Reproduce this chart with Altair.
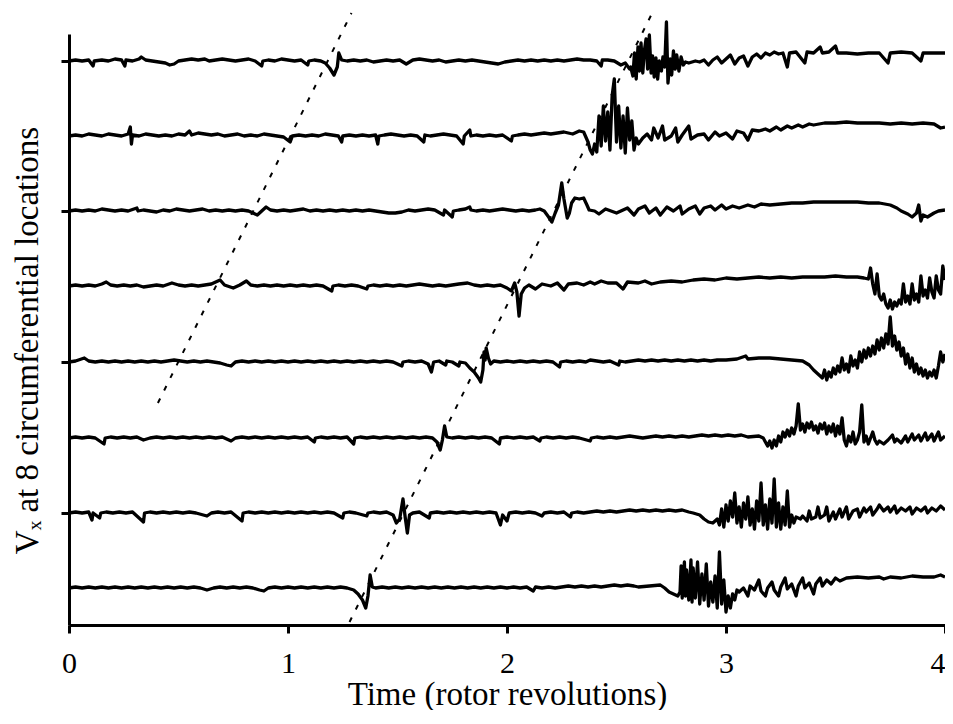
import altair as alt
import pandas as pd

X_TICKS = [0, 1, 2, 3, 4]
# vertical offset (baseline) of each of the 8 traces, top to bottom
OFFSETS = [527, 452, 377, 302, 226, 150, 75, 0]
TICK_OFFSETS = [527, 377, 226, 75]

# (time in revolutions, Vx deviation from the trace baseline)
TRACE_1 = [(0.00,0),(0.03,1),(0.06,0),(0.09,1),(0.11,-5),(0.115,0),(0.15,1),(0.18,0),(0.21,2),(0.24,1),(0.255,-5),(0.26,1),(0.29,0),(0.32,2),(0.33,4),(0.35,1),(0.38,0),(0.41,-1),(0.44,-2),(0.46,-4),(0.48,-3),(0.50,0),(0.53,1),(0.56,2),(0.59,1),(0.62,2),(0.64,0),(0.67,1),(0.70,2),(0.73,1),(0.76,0),(0.79,1),(0.82,2),(0.85,0),(0.88,-5),(0.885,0),(0.91,1),(0.94,0),(0.97,2),(1.00,1),(1.03,0),(1.06,1),(1.09,-4),(1.095,0),(1.12,1),(1.15,0),(1.17,-2),(1.19,-7),(1.21,-14),(1.225,-6),(1.232,8),(1.245,1),(1.27,0),(1.30,1),(1.33,0),(1.36,1),(1.39,-1),(1.42,0),(1.45,1),(1.48,0),(1.51,1),(1.54,-3),(1.57,1),(1.60,2),(1.63,1),(1.66,0),(1.69,1),(1.72,-1),(1.75,0),(1.78,1),(1.81,0),(1.84,1),(1.87,0),(1.90,-1),(1.93,-2),(1.96,-3),(1.99,-1),(2.02,0),(2.05,1),(2.08,0),(2.11,1),(2.14,0),(2.17,1),(2.20,0),(2.23,1),(2.26,0),(2.29,1),(2.32,2),(2.35,1),(2.38,1),(2.41,0),(2.43,-5),(2.435,1),(2.46,1),(2.49,0),(2.52,-4),(2.54,-2),(2.56,-8),
    (2.565,-6),(2.575,-15),(2.582,8),(2.59,-18),(2.598,14),(2.605,-10),(2.612,18),(2.62,-12),(2.627,10),(2.635,22),(2.642,-8),(2.65,26),(2.658,-12),(2.665,5),(2.672,-16),(2.68,3),(2.688,-18),(2.695,0),(2.705,-10),(2.712,4),(2.72,-6),(2.728,39),(2.735,-22),(2.745,2),(2.752,-14),(2.76,10),(2.768,-8),(2.775,6),(2.785,-10),(2.795,4),(2.805,-4),(2.815,-1),
    (2.83,-2),(2.86,0),(2.88,-1),(2.9,1),(2.92,-4),(2.94,1),(2.96,4),(2.98,-2),(3.0,2),(3.02,6),(3.04,-3),(3.06,3),(3.08,5),(3.1,-5),(3.12,4),(3.14,7),(3.16,3),(3.18,8),(3.2,6),(3.22,9),(3.24,7),(3.26,8),(3.28,-6),(3.29,8),(3.32,9),(3.36,-2),(3.37,9),(3.40,8),(3.43,14),(3.44,8),(3.47,9),(3.50,15),(3.51,8),(3.55,8),(3.6,7),(3.65,8),(3.7,8),(3.74,-2),(3.75,8),(3.8,9),(3.85,8),(3.89,0),(3.90,8),(3.95,8),(4.0,8)]

TRACE_2 = [(0.00,0),(0.03,1),(0.06,0),(0.09,2),(0.12,1),(0.15,0),(0.18,2),(0.21,1),(0.24,0),(0.27,2),(0.28,9),(0.285,-8),(0.29,1),(0.32,0),(0.35,2),(0.38,1),(0.41,0),(0.44,1),(0.47,0),(0.50,2),(0.53,1),(0.55,5),(0.56,1),(0.59,3),(0.62,2),(0.65,1),(0.68,2),(0.71,0),(0.74,1),(0.77,2),(0.80,0),(0.83,1),(0.86,0),(0.89,2),(0.92,1),(0.95,0),(0.98,-1),(1.01,-6),(1.02,0),(1.05,1),(1.08,0),(1.11,1),(1.14,0),(1.17,2),(1.20,1),(1.23,0),(1.245,-6),(1.25,0),(1.28,1),(1.31,0),(1.34,1),(1.37,0),(1.40,1),(1.41,-8),(1.415,0),(1.44,1),(1.47,2),(1.50,1),(1.53,0),(1.56,1),(1.59,0),(1.62,-6),(1.625,1),(1.65,0),(1.68,1),(1.71,2),(1.74,1),(1.77,0),(1.80,-8),(1.805,0),(1.83,6),(1.835,0),(1.86,1),(1.89,0),(1.92,1),(1.95,0),(1.98,1),(2.02,-5),(2.025,0),(2.05,1),(2.08,2),(2.11,1),(2.14,2),(2.17,3),(2.20,2),(2.23,3),(2.26,4),(2.28,3),
    (2.30,2),(2.33,5),(2.35,4),(2.37,-6),(2.38,-14),(2.39,-18),(2.40,-8),(2.41,-16),(2.42,20),(2.43,-10),(2.44,30),(2.45,-5),(2.46,24),(2.47,-14),(2.48,40),(2.49,57),(2.50,-6),(2.51,30),(2.52,-12),(2.53,20),(2.54,-17),(2.55,28),(2.56,-4),(2.57,15),(2.58,-14),(2.59,-2),(2.60,-8),(2.62,-2),
    (2.64,2),(2.66,-4),(2.67,8),(2.69,-2),(2.71,10),(2.72,-4),(2.75,0),(2.77,8),(2.78,-6),(2.80,1),(2.83,10),(2.84,-3),(2.87,1),(2.9,2),(2.92,-4),(2.95,4),(2.97,0),(3.0,3),(3.03,-3),(3.05,5),(3.08,3),(3.1,-4),(3.12,6),(3.15,5),(3.18,7),(3.2,5),(3.23,9),(3.25,6),(3.28,10),(3.3,8),(3.33,11),(3.35,9),(3.38,12),(3.4,11),(3.45,13),(3.5,13),(3.55,14),(3.6,13),(3.7,13),(3.75,12),(3.8,13),(3.85,12),(3.9,13),(3.95,12),(3.98,8),(4.0,9)]

TRACE_3 = [(0.00,0),(0.03,1),(0.06,0),(0.09,1),(0.12,0),(0.15,2),(0.18,1),(0.21,0),(0.24,1),(0.27,0),(0.31,3),(0.315,0),(0.34,1),(0.37,0),(0.40,-1),(0.43,1),(0.46,0),(0.49,2),(0.52,1),(0.55,0),(0.58,1),(0.61,2),(0.64,0),(0.67,1),(0.70,0),(0.73,1),(0.76,0),(0.79,1),(0.82,0),(0.86,-4),(0.88,0),(0.90,4),(0.92,1),(0.95,0),(0.98,1),(1.01,0),(1.04,1),(1.07,2),(1.10,0),(1.13,1),(1.16,0),(1.19,1),(1.22,0),(1.25,1),(1.28,0),(1.31,1),(1.34,0),(1.37,1),(1.40,0),(1.43,-1),(1.46,-2),(1.49,-2),(1.52,-1),(1.55,1),(1.58,0),(1.61,1),(1.64,2),(1.67,1),(1.71,-4),(1.715,1),(1.75,-6),(1.755,0),(1.78,1),(1.81,2),(1.83,4),(1.835,1),(1.86,0),(1.89,1),(1.92,0),(1.95,1),(1.98,2),(2.01,1),(2.04,0),(2.07,1),(2.10,0),(2.13,1),(2.15,2),(2.17,0),(2.19,-6),(2.205,-11),(2.22,-2),(2.235,6),(2.25,28),(2.26,12),(2.275,-7),(2.285,-2),(2.295,8),(2.31,13),(2.33,12),(2.35,13),(2.365,6),(2.375,1),
    (2.40,0),(2.42,-3),(2.45,2),(2.5,-2),(2.55,3),(2.58,-4),(2.6,2),(2.63,5),(2.65,-2),(2.68,3),(2.7,-4),(2.73,4),(2.76,0),(2.79,5),(2.8,-3),(2.83,2),(2.86,5),(2.88,-3),(2.9,3),(2.93,5),(2.95,1),(2.98,6),(3.0,2),(3.03,5),(3.06,3),(3.1,6),(3.13,4),(3.16,7),(3.2,6),(3.25,7),(3.3,8),(3.35,8),(3.4,9),(3.45,9),(3.5,9),(3.55,9),(3.6,9),(3.65,8),(3.7,8),(3.75,6),(3.78,3),(3.8,0),(3.83,-3),(3.85,-6),(3.87,-2),(3.88,6),(3.89,-10),(3.9,-4),(3.92,-6),(3.95,-2),(3.97,0),(4.0,1)]

TRACE_4 = [(0.00,0),(0.03,1),(0.06,0),(0.09,1),(0.12,0),(0.15,2),(0.17,4),(0.19,1),(0.22,0),(0.25,1),(0.28,0),(0.31,1),(0.34,-1),(0.37,0),(0.40,1),(0.43,0),(0.47,3),(0.50,1),(0.53,0),(0.56,1),(0.59,0),(0.62,1),(0.65,2),(0.69,6),(0.71,1),(0.75,-2),(0.78,1),(0.81,5),(0.83,1),(0.86,0),(0.89,1),(0.92,0),(0.95,1),(0.98,0),(1.01,1),(1.04,0),(1.07,1),(1.10,0),(1.13,1),(1.16,0),(1.20,-5),(1.205,0),(1.23,1),(1.26,0),(1.29,1),(1.32,0),(1.36,-3),(1.365,0),(1.39,1),(1.42,0),(1.45,1),(1.48,0),(1.51,1),(1.54,0),(1.57,1),(1.60,2),(1.63,1),(1.66,0),(1.69,1),(1.72,0),(1.75,1),(1.78,2),(1.82,3),(1.85,1),(1.88,0),(1.91,1),(1.94,0),(1.97,1),(2.00,-2),(2.02,-5),(2.035,3),(2.045,-6),(2.055,-30),(2.065,-8),(2.075,-4),(2.08,-2),
    (2.10,1),(2.13,-3),(2.16,2),(2.2,0),(2.23,3),(2.26,-4),(2.28,2),(2.32,3),(2.35,1),(2.38,4),(2.4,2),(2.43,5),(2.46,3),(2.5,3),(2.53,-3),(2.55,4),(2.6,3),(2.63,5),(2.66,2),(2.7,4),(2.75,5),(2.8,4),(2.85,6),(2.9,7),(2.95,6),(3.0,8),(3.05,7),(3.1,8),(3.15,9),(3.2,8),(3.25,9),(3.3,8),(3.35,9),(3.4,9),(3.45,9),(3.5,10),(3.55,9),(3.6,9),(3.63,8),(3.65,7),(3.66,18),(3.67,2),(3.68,-8),(3.69,12),(3.70,-10),(3.71,-14),(3.72,-8),(3.73,-18),(3.74,-22),(3.75,-14),(3.76,-23),(3.77,-16),(3.78,-20),(3.79,-14),(3.80,-18),(3.81,2),(3.82,-16),(3.83,-10),(3.84,-18),(3.85,2),(3.86,-14),(3.87,-8),(3.88,-16),(3.89,10),(3.90,-10),(3.91,-4),(3.92,-12),(3.93,8),(3.94,-6),(3.95,-12),(3.96,10),(3.97,-4),(3.98,-8),(3.99,20),(4.0,6)]

TRACE_5 = [(0.00,0),(0.03,1),(0.07,4),(0.09,1),(0.12,0),(0.15,1),(0.18,0),(0.21,1),(0.24,0),(0.27,1),(0.30,0),(0.33,1),(0.36,0),(0.39,1),(0.42,0),(0.45,1),(0.48,2),(0.51,1),(0.54,0),(0.57,1),(0.60,0),(0.63,1),(0.66,0),(0.69,-1),(0.72,-3),(0.74,-4),(0.76,0),(0.79,1),(0.82,0),(0.85,1),(0.88,0),(0.91,1),(0.94,0),(0.97,1),(1.00,0),(1.03,1),(1.06,0),(1.09,1),(1.12,0),(1.15,1),(1.18,0),(1.21,1),(1.24,0),(1.27,1),(1.30,0),(1.33,1),(1.36,0),(1.39,1),(1.42,0),(1.45,1),(1.48,0),(1.52,-4),(1.525,0),(1.55,1),(1.58,0),(1.61,1),(1.64,-2),(1.655,-10),(1.665,0),(1.69,1),(1.72,-3),(1.725,1),(1.75,0),(1.78,-4),(1.785,0),(1.81,-1),(1.83,-6),(1.85,-10),(1.87,-16),(1.88,-20),(1.89,-8),(1.895,10),(1.90,2),(1.905,14),(1.915,4),(1.925,-2),(1.94,1),(1.97,0),(2.00,1),(2.03,0),(2.06,1),(2.09,0),(2.12,1),(2.15,0),(2.18,1),(2.21,0),(2.24,-5),(2.245,0),(2.27,1),(2.30,0),(2.33,1),(2.36,0),(2.38,2),(2.41,1),(2.44,0),(2.47,1),(2.51,-3),(2.515,1),(2.54,0),(2.57,1),(2.60,2),(2.63,1),(2.66,2),(2.69,1),(2.72,2),(2.75,1),(2.78,2),(2.81,1),(2.84,2),(2.87,1),(2.90,2),(2.93,1),(2.96,2),
    (3.0,2),(3.05,3),(3.09,6),(3.1,3),(3.15,4),(3.2,4),(3.25,3),(3.3,2),(3.35,1),(3.38,-3),(3.40,-8),(3.42,-12),(3.44,-16),(3.45,-8),(3.46,-18),(3.47,-10),(3.48,-15),(3.49,-6),(3.50,-12),(3.51,-4),(3.52,-10),(3.53,4),(3.54,-8),(3.55,-2),(3.56,-10),(3.57,6),(3.58,-4),(3.59,2),(3.60,-6),(3.61,10),(3.62,0),(3.63,12),(3.64,4),(3.65,14),(3.66,6),(3.67,16),(3.68,8),(3.69,22),(3.70,12),(3.71,24),(3.72,14),(3.73,28),(3.74,18),(3.75,45),(3.76,16),(3.77,26),(3.78,12),(3.79,20),(3.80,6),(3.81,14),(3.82,-2),(3.83,8),(3.84,-6),(3.85,4),(3.86,-10),(3.87,-2),(3.88,-12),(3.89,-6),(3.90,-14),(3.91,-8),(3.92,-16),(3.93,-10),(3.94,-14),(3.95,-8),(3.96,-16),(3.97,-4),(3.98,10),(3.99,0),(4.0,8)]

TRACE_6 = [(0.00,0),(0.03,1),(0.06,0),(0.09,1),(0.12,0),(0.16,-6),(0.165,0),(0.19,1),(0.22,0),(0.25,1),(0.28,0),(0.31,1),(0.34,-2),(0.37,0),(0.40,1),(0.43,0),(0.46,1),(0.49,0),(0.52,1),(0.55,0),(0.58,1),(0.61,0),(0.64,1),(0.67,0),(0.70,1),(0.74,-3),(0.76,0),(0.79,1),(0.82,0),(0.85,1),(0.88,0),(0.91,1),(0.94,0),(0.97,1),(1.00,0),(1.03,1),(1.06,0),(1.09,1),(1.12,-4),(1.125,0),(1.15,1),(1.18,0),(1.21,1),(1.24,0),(1.27,1),(1.30,-6),(1.305,0),(1.33,1),(1.36,0),(1.39,1),(1.42,0),(1.45,1),(1.48,0),(1.51,1),(1.54,0),(1.57,1),(1.60,0),(1.63,1),(1.66,0),(1.68,-4),(1.695,-12),(1.705,-2),(1.715,12),(1.725,1),(1.75,0),(1.78,1),(1.81,0),(1.84,1),(1.87,0),(1.90,1),(1.93,0),(1.965,-6),(1.97,0),(2.00,1),(2.03,0),(2.06,1),(2.09,0),(2.12,1),(2.15,-3),(2.155,0),(2.18,1),(2.21,0),(2.24,1),(2.27,0),(2.30,1),(2.33,0),(2.38,-3),(2.385,0),(2.41,1),(2.44,0),(2.47,1),(2.50,0),(2.53,1),(2.56,2),(2.59,1),(2.62,0),(2.65,1),(2.68,2),(2.71,1),(2.74,2),(2.77,1),(2.80,2),(2.83,1),(2.86,2),(2.89,3),(2.92,2),(2.95,3),(2.98,2),(3.01,3),(3.04,2),(3.07,3),
    (3.1,1),(3.15,2),(3.17,0),(3.19,-8),(3.20,-3),(3.21,-10),(3.22,-2),(3.23,-8),(3.24,2),(3.25,-4),(3.26,6),(3.27,1),(3.28,8),(3.29,2),(3.30,10),(3.31,4),(3.32,12),(3.33,34),(3.34,8),(3.35,14),(3.36,6),(3.37,15),(3.38,10),(3.39,16),(3.40,8),(3.41,12),(3.42,5),(3.43,14),(3.44,9),(3.45,15),(3.46,4),(3.47,12),(3.48,6),(3.49,14),(3.50,2),(3.51,12),(3.52,4),(3.53,20),(3.54,-2),(3.55,-8),(3.56,2),(3.57,-4),(3.58,6),(3.59,-6),(3.60,-2),(3.61,6),(3.62,33),(3.63,-4),(3.64,2),(3.65,-6),(3.66,0),(3.67,6),(3.68,-2),(3.69,-6),(3.70,-3),(3.72,-6),(3.74,-2),(3.76,3),(3.77,-4),(3.78,-1),(3.80,-5),(3.82,2),(3.83,-4),(3.85,4),(3.86,-2),(3.88,3),(3.89,-3),(3.91,5),(3.92,-2),(3.94,4),(3.95,-3),(3.97,6),(3.98,-2),(4.0,2)]

TRACE_7 = [(0.00,0),(0.03,1),(0.06,0),(0.09,1),(0.105,-7),(0.11,0),(0.14,-5),(0.145,0),(0.17,1),(0.20,0),(0.23,1),(0.26,0),(0.29,1),(0.34,-9),(0.345,0),(0.37,1),(0.40,0),(0.43,1),(0.46,0),(0.49,1),(0.52,0),(0.55,1),(0.58,0),(0.63,-3),(0.65,0),(0.68,1),(0.71,0),(0.74,1),(0.79,-8),(0.795,0),(0.82,1),(0.85,0),(0.88,1),(0.91,0),(0.94,1),(0.97,0),(1.00,1),(1.03,0),(1.06,1),(1.09,0),(1.12,1),(1.15,0),(1.18,1),(1.21,0),(1.25,-5),(1.255,0),(1.28,1),(1.31,0),(1.36,-3),(1.365,0),(1.39,1),(1.42,0),(1.45,1),(1.48,-2),(1.495,-10),(1.51,-6),(1.525,14),(1.535,-4),(1.545,-20),(1.555,-2),(1.57,0),(1.60,1),(1.645,-5),(1.65,0),(1.68,1),(1.71,0),(1.74,1),(1.77,0),(1.80,1),(1.83,0),(1.86,1),(1.89,0),(1.92,1),(1.95,0),(1.97,-12),(1.98,-2),(2.00,-8),(2.01,0),(2.04,1),(2.07,0),(2.10,1),(2.13,0),(2.16,-3),(2.17,0),(2.20,1),(2.23,0),(2.26,1),(2.29,-4),(2.295,0),(2.32,1),(2.35,0),(2.38,1),(2.41,2),(2.44,1),(2.47,2),(2.50,1),(2.53,2),(2.56,3),(2.59,2),(2.62,3),(2.65,2),(2.68,3),(2.71,2),(2.74,3),(2.77,2),(2.80,3),(2.83,1),
    (2.85,0),(2.88,-2),(2.90,-6),(2.92,-9),(2.94,-10),(2.96,-6),(2.97,-12),(2.98,4),(2.99,-14),(3.00,8),(3.01,-8),(3.02,12),(3.03,-4),(3.04,20),(3.05,-10),(3.06,6),(3.07,-14),(3.08,10),(3.09,-6),(3.10,16),(3.11,-12),(3.12,4),(3.13,-16),(3.14,12),(3.15,-8),(3.16,30),(3.17,-12),(3.18,8),(3.19,-16),(3.20,14),(3.21,-10),(3.22,34),(3.23,-14),(3.24,10),(3.25,-16),(3.26,6),(3.27,-12),(3.28,22),(3.29,-14),(3.30,-2),(3.31,-10),(3.32,-4),(3.34,-6),(3.35,-3),(3.37,-8),(3.38,2),(3.39,-6),(3.41,-4),(3.42,6),(3.43,-5),(3.45,-2),(3.46,6),(3.47,-8),(3.49,1),(3.50,-6),(3.52,4),(3.53,-4),(3.55,6),(3.56,-6),(3.58,2),(3.60,4),(3.61,-4),(3.63,5),(3.64,1),(3.66,6),(3.67,-2),(3.69,4),(3.70,8),(3.72,2),(3.74,6),(3.75,1),(3.77,7),(3.78,0),(3.80,5),(3.82,2),(3.84,6),(3.85,-1),(3.87,5),(3.89,2),(3.91,6),(3.92,0),(3.94,5),(3.96,2),(3.98,7),(4.0,3)]

TRACE_8 = [(0.00,0),(0.03,1),(0.06,0),(0.09,1),(0.12,0),(0.15,1),(0.18,0),(0.21,1),(0.24,0),(0.27,1),(0.30,0),(0.33,1),(0.36,0),(0.39,1),(0.42,0),(0.45,1),(0.48,0),(0.51,1),(0.54,0),(0.57,1),(0.60,0),(0.63,-2),(0.66,0),(0.69,1),(0.72,0),(0.75,1),(0.78,0),(0.81,1),(0.84,0),(0.87,-2),(0.89,-3),(0.91,0),(0.94,1),(0.97,0),(1.00,1),(1.03,0),(1.06,1),(1.09,0),(1.12,1),(1.15,0),(1.18,1),(1.21,0),(1.24,1),(1.27,0),(1.30,-2),(1.32,-6),(1.34,-12),(1.355,-20),(1.365,-8),(1.375,13),(1.385,1),(1.40,0),(1.43,1),(1.46,0),(1.49,1),(1.52,0),(1.55,1),(1.58,0),(1.61,1),(1.64,0),(1.67,1),(1.70,0),(1.73,1),(1.76,0),(1.79,1),(1.82,0),(1.85,1),(1.88,0),(1.91,1),(1.94,0),(1.97,1),(2.00,0),(2.03,1),(2.06,0),(2.09,1),(2.12,-3),(2.13,1),(2.16,0),(2.19,1),(2.22,0),(2.25,1),(2.28,2),(2.31,1),(2.34,2),(2.37,1),(2.40,2),(2.43,1),(2.46,2),(2.49,3),(2.52,2),(2.55,3),(2.58,2),
    (2.6,1),(2.65,2),(2.7,3),(2.72,0),(2.74,-4),(2.76,-6),(2.78,-8),(2.79,-4),(2.795,22),(2.80,-10),(2.81,26),(2.815,-8),(2.82,18),(2.83,-12),(2.84,28),(2.845,-14),(2.85,20),(2.86,-10),(2.87,26),(2.88,-16),(2.89,14),(2.90,-12),(2.91,24),(2.92,-18),(2.93,6),(2.94,-14),(2.95,12),(2.96,-20),(2.97,36),(2.98,-16),(2.99,8),(3.00,-24),(3.01,-8),(3.02,-20),(3.03,-6),(3.04,-12),(3.05,-2),(3.06,-4),(3.08,0),(3.10,-8),(3.11,2),(3.13,-2),(3.15,8),(3.16,-3),(3.18,-8),(3.19,0),(3.21,6),(3.22,-2),(3.24,-8),(3.25,1),(3.27,10),(3.28,-1),(3.30,4),(3.32,-8),(3.33,2),(3.35,10),(3.36,0),(3.38,5),(3.40,-6),(3.41,4),(3.43,10),(3.44,2),(3.46,8),(3.48,4),(3.50,10),(3.52,7),(3.55,10),(3.6,11),(3.65,10),(3.7,11),(3.72,9),(3.75,11),(3.8,10),(3.85,12),(3.9,11),(3.95,11),(3.98,13),(4.0,11)]

TRACES = [TRACE_1, TRACE_2, TRACE_3, TRACE_4, TRACE_5, TRACE_6, TRACE_7, TRACE_8]

# two dotted propagation lines: (time, Vx-axis position)
DOTTED_A = [(0.406, 185), (1.290, 575)]
DOTTED_B = [(1.281, -34), (2.663, 575)]

rows = []
for i, (off, tr) in enumerate(zip(OFFSETS, TRACES)):
    seen = set()
    for t, d in sorted(tr):
        if t in seen:
            continue
        seen.add(t)
        rows.append({"t": t, "v": off + d, "trace": i})
df = pd.DataFrame(rows)

drows = []
for name, pts in (("A", DOTTED_A), ("B", DOTTED_B)):
    for t, v in pts:
        drows.append({"t": t, "v": v, "line": name})
ddf = pd.DataFrame(drows)

FONT = "Liberation Serif"
xscale = alt.Scale(domain=[0, 4], nice=False, zero=False)
yscale = alt.Scale(domain=[-37, 554], nice=False, zero=False)

x_axis = alt.Axis(values=X_TICKS, format="d", title="Time (rotor revolutions)", grid=False,
                  tickSize=8, tickWidth=3, tickColor="black", domainColor="black", domainWidth=3,
                  labelFont=FONT, labelFontSize=30, labelColor="black", labelPadding=15,
                  labelFlush=False,
                  labelAlign=alt.expr("datum.value == 4 ? 'right' : 'center'"),
                  titleFont=FONT, titleFontSize=33, titleFontWeight="normal",
                  titleColor="black", titleBaseline="top", titleY=53)
y_axis = alt.Axis(values=TICK_OFFSETS, labels=False, grid=False, tickSize=8, tickWidth=3,
                  tickColor="black", domainColor="black", domainWidth=3,
                  title="Vₓ at 8 circumferential locations", titleFont=FONT, titleFontSize=33,
                  titleFontWeight="normal", titleColor="black", titleAngle=270,
                  titleBaseline="bottom", titleAlign="center", titleX=-25, titleY=306)

traces = alt.Chart(df).mark_line(color="black", strokeWidth=3.3, strokeJoin="round").encode(
    x=alt.X("t:Q", scale=xscale, axis=x_axis),
    y=alt.Y("v:Q", scale=yscale, axis=y_axis),
    detail="trace:N",
    order="t:Q",
)

dotted = alt.Chart(ddf).mark_line(color="black", strokeWidth=2, strokeDash=[5, 9]).encode(
    x=alt.X("t:Q", scale=xscale, axis=x_axis),
    y=alt.Y("v:Q", scale=yscale, axis=y_axis),
    detail="line:N",
)

chart = alt.layer(traces, dotted).properties(
    width=876, height=591,
    autosize=alt.AutoSizeParams(type="none"),
    padding={"left": 61, "top": 26, "right": 0, "bottom": 85},
).configure_view(stroke=None)

chart.save("out.html", embed_options={"renderer": "svg", "actions": False})
